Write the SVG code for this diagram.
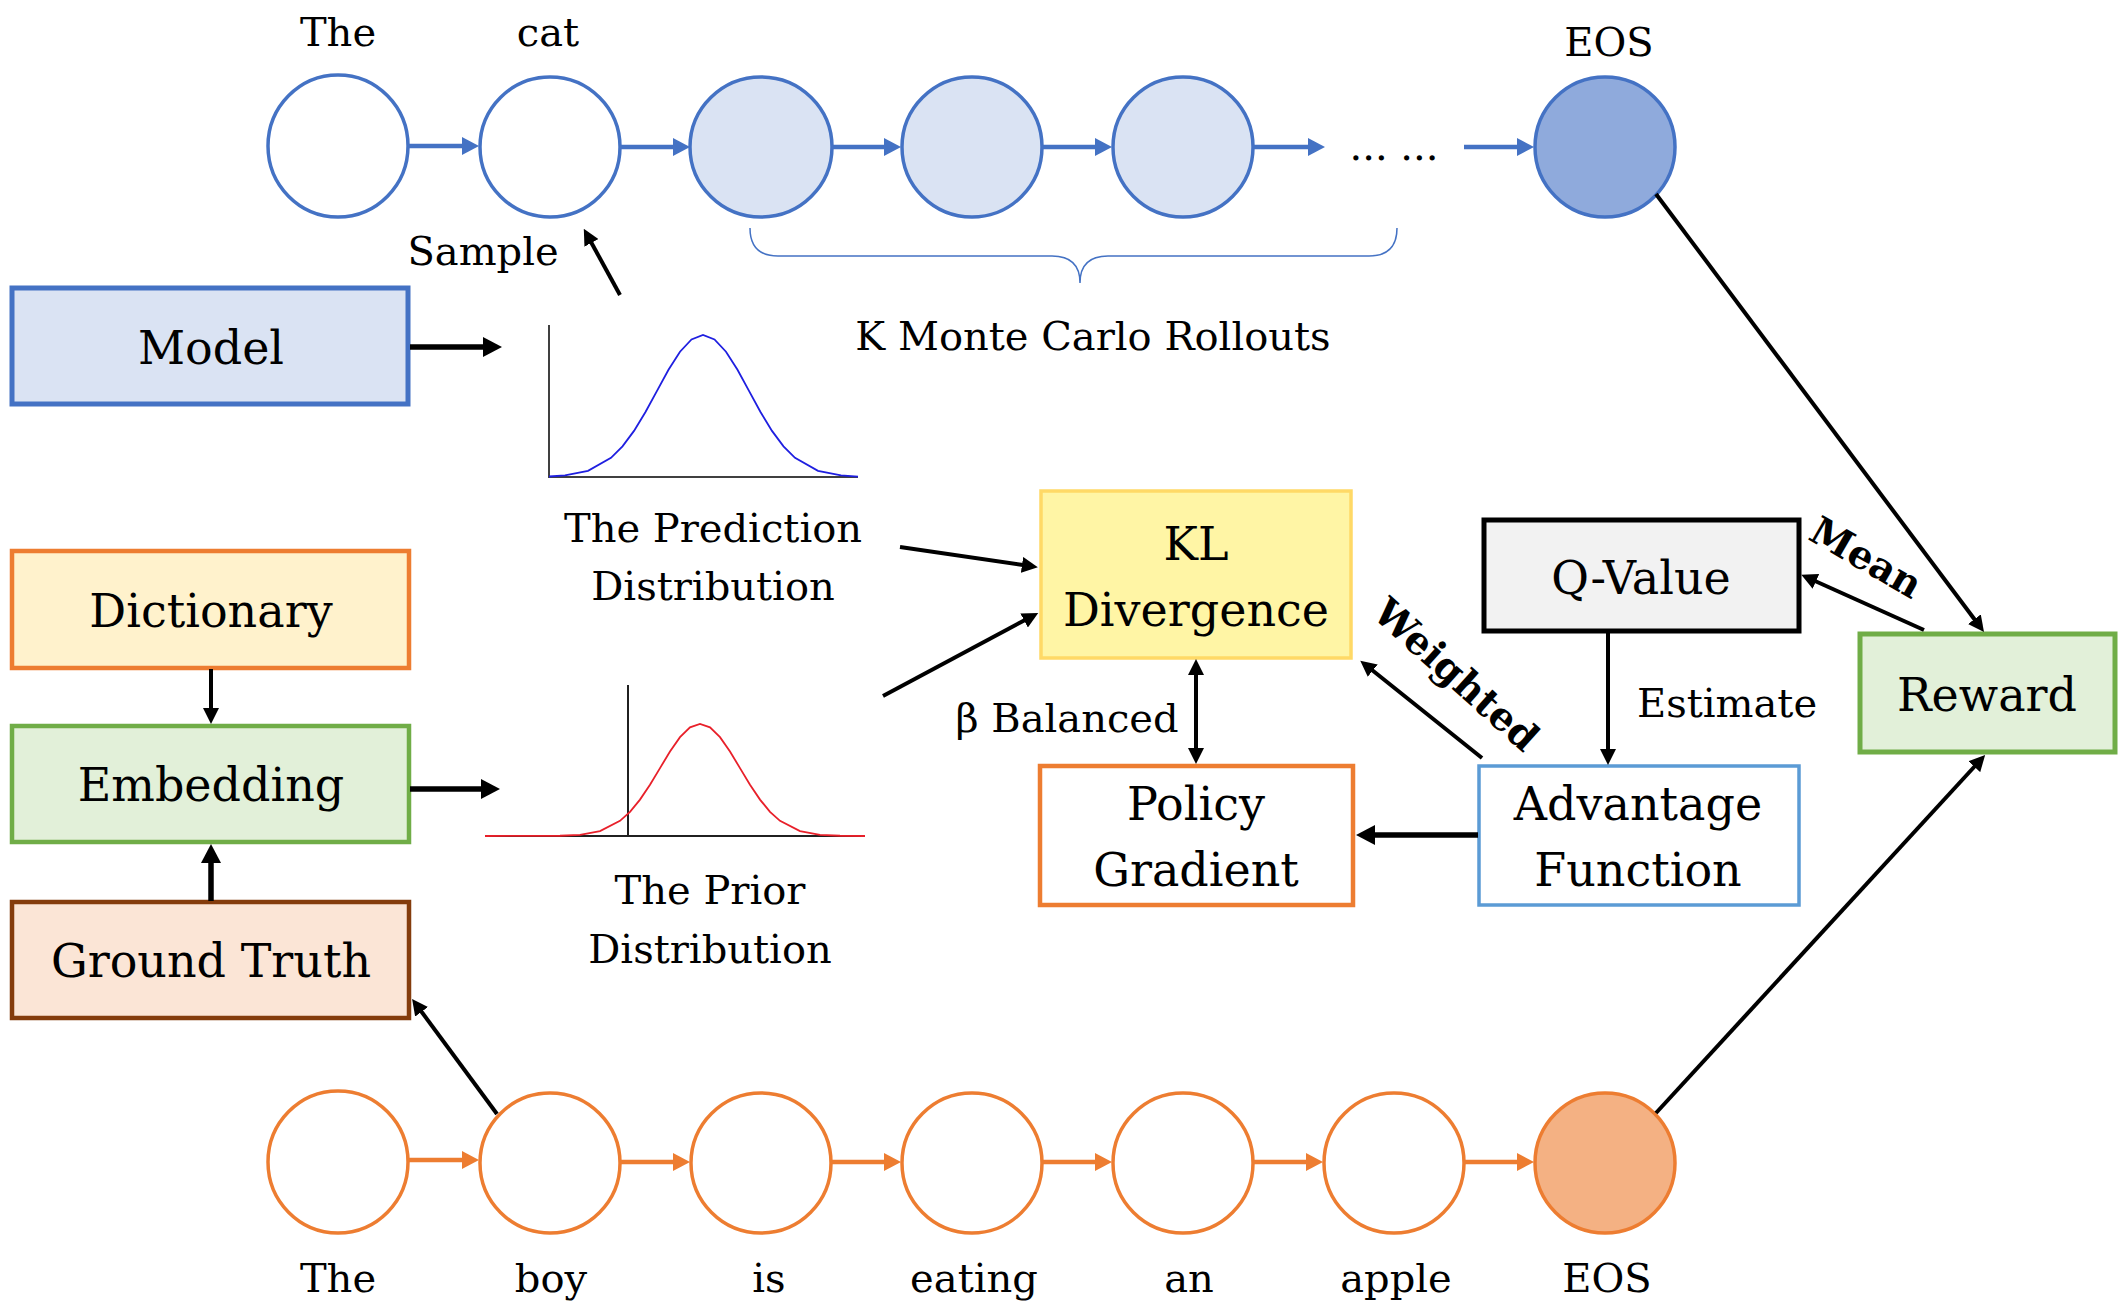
<svg xmlns="http://www.w3.org/2000/svg" width="2128" height="1314" viewBox="0 0 2128 1314">
<style>
text{font-family:"DejaVu Serif","Liberation Serif",serif;fill:#000;text-anchor:middle}
.lbl{font-size:40px}
.box{font-size:46px}
.bold{font-weight:bold;font-size:39px}
.cb{stroke:#4472C4;stroke-width:3.5}
.co{stroke:#ED7D31;stroke-width:3.5}
.ab{stroke:#4472C4;stroke-width:4.5;fill:none}
.ao{stroke:#ED7D31;stroke-width:4.5;fill:none}
.k{stroke:#000;stroke-width:4;fill:none}
.K{stroke:#000;stroke-width:5.5;fill:none}
</style>
<defs>
<marker id="hb" markerUnits="userSpaceOnUse" markerWidth="17" markerHeight="18" refX="1" refY="9" orient="auto"><path d="M0,0 L17,9 L0,18 z" fill="#4472C4"/></marker>
<marker id="ho" markerUnits="userSpaceOnUse" markerWidth="17" markerHeight="18" refX="1" refY="9" orient="auto"><path d="M0,0 L17,9 L0,18 z" fill="#ED7D31"/></marker>
<marker id="hK" markerUnits="userSpaceOnUse" markerWidth="19" markerHeight="20" refX="1" refY="10" orient="auto"><path d="M0,0 L19,10 L0,20 z" fill="#000"/></marker>
<marker id="hk" markerUnits="userSpaceOnUse" markerWidth="16" markerHeight="16" refX="1" refY="8" orient="auto-start-reverse"><path d="M0,0 L16,8 L0,16 z" fill="#000"/></marker>
</defs>

<g id="top-row">
<ellipse id="t1" cx="338" cy="146" rx="70" ry="71" fill="#fff" class="cb"/>
<ellipse id="t2" cx="550" cy="147" rx="70" ry="70" fill="#fff" class="cb"/>
<ellipse id="t3" cx="761" cy="147" rx="71" ry="70" fill="#DAE3F3" class="cb"/>
<ellipse id="t4" cx="972" cy="147" rx="70" ry="70" fill="#DAE3F3" class="cb"/>
<ellipse id="t5" cx="1183" cy="147" rx="70" ry="70" fill="#DAE3F3" class="cb"/>
<ellipse id="t6" cx="1605" cy="147" rx="70" ry="70" fill="#8FAADC" class="cb"/>
<text class="lbl" x="338" y="46">The</text>
<text class="lbl" x="548" y="46">cat</text>
<text class="lbl" x="1609" y="56">EOS</text>
<text class="lbl" x="1394" y="160">... ...</text>
</g>

<g id="bottom-row">
<ellipse id="b1" cx="338" cy="1162" rx="70" ry="71" fill="#fff" class="co"/>
<ellipse id="b2" cx="550" cy="1163" rx="70" ry="70" fill="#fff" class="co"/>
<ellipse id="b3" cx="761" cy="1163" rx="70" ry="70" fill="#fff" class="co"/>
<ellipse id="b4" cx="972" cy="1163" rx="70" ry="70" fill="#fff" class="co"/>
<ellipse id="b5" cx="1183" cy="1163" rx="70" ry="70" fill="#fff" class="co"/>
<ellipse id="b6" cx="1394" cy="1163" rx="70" ry="70" fill="#fff" class="co"/>
<ellipse id="b7" cx="1605" cy="1163" rx="70" ry="70" fill="#F4B183" class="co"/>
<text class="lbl" x="338" y="1292">The</text>
<text class="lbl" x="551" y="1292">boy</text>
<text class="lbl" x="769" y="1292">is</text>
<text class="lbl" x="974" y="1292">eating</text>
<text class="lbl" x="1189" y="1292">an</text>
<text class="lbl" x="1396" y="1292">apple</text>
<text class="lbl" x="1607" y="1292">EOS</text>
</g>

<g id="model"><rect x="12" y="288" width="396" height="116" fill="#DAE3F3" stroke="#4472C4" stroke-width="5"/><text class="box" x="211" y="364">Model</text></g>
<g id="dictionary"><rect x="12" y="551" width="397" height="117" fill="#FFF2CC" stroke="#ED7D31" stroke-width="4.5"/><text class="box" x="211" y="627">Dictionary</text></g>
<g id="embedding"><rect x="12" y="726" width="397" height="116" fill="#E2F0D9" stroke="#70AD47" stroke-width="4.5"/><text class="box" x="211" y="801">Embedding</text></g>
<g id="ground-truth"><rect x="12" y="902" width="397" height="116" fill="#FBE5D6" stroke="#843C0C" stroke-width="4.5"/><text class="box" x="211" y="977">Ground Truth</text></g>

<g id="prediction-distribution">
<path d="M549,325 L549,477 L858,477" fill="none" stroke="#404040" stroke-width="2"/>
<polyline fill="none" stroke="#1F1FE0" stroke-width="1.8" points="549,476.5 565,475.4 588,470.8 611,457.8 622.5,446.3 634,430.9 645.5,412 657,390.9 668.5,369.8 680,351.7 691.5,339.4 703,335 714.5,339.4 726,351.7 737.5,369.8 749,390.9 760.5,412 772,430.9 783.5,446.3 795,457.8 818,470.8 841,475.4 858,476.6"/>
<text class="lbl" x="713" y="542">The Prediction</text>
<text class="lbl" x="713" y="600">Distribution</text>
</g>

<g id="prior-distribution">
<path d="M485,836 L865,836 M628,685 L628,836" fill="none" stroke="#202020" stroke-width="2"/>
<polyline fill="none" stroke="#E8202A" stroke-width="1.8" points="485,836 560,835.75 580,834.8 600,831.1 620,820.8 630,811.8 640,799.6 650,784.7 660,768.1 670,751.5 680,737.2 690,727.4 700,724 710,727.4 720,737.2 730,751.5 740,768.1 750,784.7 760,799.6 770,811.8 780,820.8 800,831.1 820,834.8 840,835.75 865,836"/>
<text class="lbl" x="710" y="904">The Prior</text>
<text class="lbl" x="710" y="963">Distribution</text>
</g>

<g id="rollouts">
<path d="M750,228 Q750,256 778,256 L1052,256 Q1080,256 1080,283 Q1080,256 1108,256 L1369,256 Q1397,256 1397,228" fill="none" stroke="#4472C4" stroke-width="1.5"/>
<text class="lbl" x="1093" y="350">K Monte Carlo Rollouts</text>
</g>

<g id="kl"><rect x="1041" y="491" width="310" height="167" fill="#FFF5A5" stroke="#FFD966" stroke-width="3.5"/><text class="box" x="1196" y="560">KL</text><text class="box" x="1196" y="626">Divergence</text></g>
<g id="q-value"><rect x="1484" y="520" width="315" height="111" fill="#F2F2F2" stroke="#000" stroke-width="5"/><text class="box" x="1641" y="594">Q-Value</text></g>
<g id="reward"><rect x="1860" y="634" width="255" height="118" fill="#E2F0D9" stroke="#70AD47" stroke-width="5"/><text class="box" x="1987" y="711">Reward</text></g>
<g id="policy-gradient"><rect x="1040" y="766" width="313" height="139" fill="#fff" stroke="#ED7D31" stroke-width="4.5"/><text class="box" x="1196" y="820">Policy</text><text class="box" x="1196" y="886">Gradient</text></g>
<g id="advantage"><rect x="1479" y="766" width="320" height="139" fill="#fff" stroke="#5B9BD5" stroke-width="3.5"/><text class="box" x="1638" y="820">Advantage</text><text class="box" x="1638" y="886">Function</text></g>

<g id="connectors">
<line class="ab" x1="408" y1="146" x2="463" y2="146" marker-end="url(#hb)"/>
<line class="ab" x1="620" y1="147" x2="674" y2="147" marker-end="url(#hb)"/>
<line class="ab" x1="831" y1="147" x2="885" y2="147" marker-end="url(#hb)"/>
<line class="ab" x1="1042" y1="147" x2="1096" y2="147" marker-end="url(#hb)"/>
<line class="ab" x1="1253" y1="147" x2="1309" y2="147" marker-end="url(#hb)"/>
<line class="ab" x1="1464" y1="147" x2="1518" y2="147" marker-end="url(#hb)"/>

<line class="ao" x1="408" y1="1160" x2="463" y2="1160" marker-end="url(#ho)"/>
<line class="ao" x1="620" y1="1162" x2="674" y2="1162" marker-end="url(#ho)"/>
<line class="ao" x1="831" y1="1162" x2="885" y2="1162" marker-end="url(#ho)"/>
<line class="ao" x1="1042" y1="1162" x2="1096" y2="1162" marker-end="url(#ho)"/>
<line class="ao" x1="1253" y1="1162" x2="1307" y2="1162" marker-end="url(#ho)"/>
<line class="ao" x1="1464" y1="1162" x2="1518" y2="1162" marker-end="url(#ho)"/>

<line class="K" x1="410" y1="347" x2="484" y2="347" marker-end="url(#hK)"/>
<line class="K" x1="410" y1="789" x2="482" y2="789" marker-end="url(#hK)"/>
<line class="k" x1="211" y1="669" x2="211" y2="709" marker-end="url(#hk)"/>
<line class="K" x1="211" y1="901" x2="211" y2="862" marker-end="url(#hK)"/>
<line class="k" x1="497" y1="1114" x2="421" y2="1011" marker-end="url(#hk)"/>
<line class="k" x1="620" y1="295" x2="591" y2="242" marker-end="url(#hk)"/>
<line class="k" x1="900" y1="547" x2="1023" y2="565" marker-end="url(#hk)"/>
<line class="k" x1="883" y1="696" x2="1025" y2="620" marker-end="url(#hk)"/>
<line class="k" x1="1196" y1="674" x2="1196" y2="749" marker-start="url(#hk)" marker-end="url(#hk)"/>
<line class="K" x1="1478" y1="835" x2="1374" y2="835" marker-end="url(#hK)"/>
<line class="k" x1="1482" y1="758" x2="1372" y2="670" marker-end="url(#hk)"/>
<line class="k" x1="1608" y1="632" x2="1608" y2="750" marker-end="url(#hk)"/>
<line class="k" x1="1924" y1="630" x2="1815" y2="581" marker-end="url(#hk)"/>
<line class="k" x1="1656" y1="194" x2="1975" y2="620" marker-end="url(#hk)"/>
<line class="k" x1="1656" y1="1113" x2="1975" y2="766" marker-end="url(#hk)"/>

<text class="lbl" x="483" y="265">Sample</text>
<text class="lbl" x="1067" y="732">β Balanced</text>
<text class="lbl" x="1727" y="717">Estimate</text>
<text class="bold" transform="translate(1456,675) rotate(42)" y="13">Weighted</text>
<text class="bold" transform="translate(1866,558) rotate(30)" y="13">Mean</text>
</g>
</svg>
